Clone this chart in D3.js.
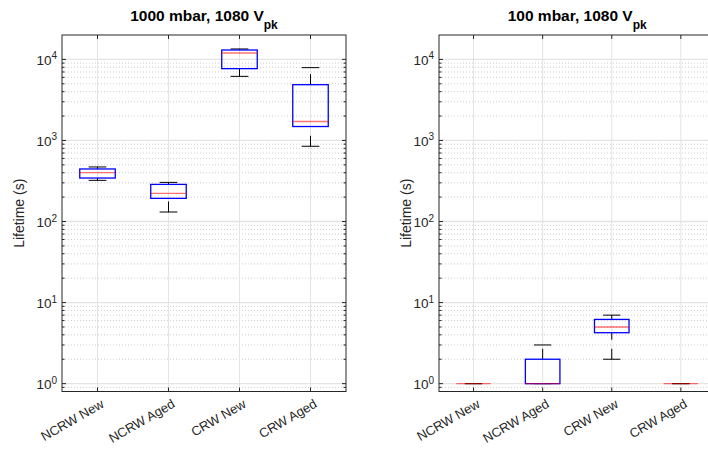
<!DOCTYPE html>
<html>
<head>
<meta charset="utf-8">
<script src="https://cdn.jsdelivr.net/npm/d3@7"></script>
<style>
  body { margin: 0; background: #fff; }
  text { font-family: "Liberation Sans", Arial, Helvetica, sans-serif; fill: #262626; }
</style>
</head>
<body>
<svg id="chart" width="708" height="455"></svg>
<script>
// Categories shared by both panels
const categories = ["NCRW New", "NCRW Aged", "CRW New", "CRW Aged"];

// 1000 mbar box-plot summaries (lifetime, s)
const hiPressLow    = [322, 131, 6180, 848];
const hiPressQ1     = [344, 193, 7690, 1486];
const hiPressMedian = [401, 222, 12000, 1714];
const hiPressQ3     = [445, 287, 13060, 4875];
const hiPressHigh   = [471, 304, 13450, 7910];

// 100 mbar box-plot summaries (lifetime, s)
const loPressLow    = [1, 1, 2, 1];
const loPressQ1     = [1, 1, 4.25, 1];
const loPressMedian = [1, 1, 5, 1];
const loPressQ3     = [1, 2, 6.2, 1];
const loPressHigh   = [1, 3, 7, 1];

// Axis settings
const yTicks = [1, 10, 100, 1000, 10000];
const yDomain = [0.8, 20000];
const titles = ["1000 mbar, 1080 V", "100 mbar, 1080 V"];
const titleSub = "pk";

const svg = d3.select("#chart");
svg.append("rect").attr("width", 708).attr("height", 455).attr("fill", "#fff");

const panels = [
  { title: titles[0], x0: 62, x1: 346, labelX: 24,
    low: hiPressLow, q1: hiPressQ1, med: hiPressMedian, q3: hiPressQ3, high: hiPressHigh },
  { title: titles[1], x0: 439, x1: 715.4, labelX: 411,
    low: loPressLow, q1: loPressQ1, med: loPressMedian, q3: loPressQ3, high: loPressHigh }
];

const plotTop = 35, plotBottom = 391.5;
const axisColor = "#262626";

// Minor log positions inside the domain
const minorVals = [];
for (let e = -1; e <= 4; e++) {
  for (let k = 2; k <= 9; k++) {
    const v = k * Math.pow(10, e);
    if (v > yDomain[0] && v < yDomain[1]) minorVals.push(v);
  }
}

panels.forEach(p => {
  const g = svg.append("g");
  const x = d3.scaleBand().domain(categories).range([p.x0, p.x1]).padding(0);
  const y = d3.scaleLog().domain(yDomain).range([plotBottom, plotTop]);
  const bw = x.bandwidth();
  const cx = c => x(c) + bw / 2;

  // minor grid (dotted)
  g.append("g").selectAll("line").data(minorVals).join("line")
    .attr("x1", p.x0).attr("x2", p.x1)
    .attr("y1", d => y(d)).attr("y2", d => y(d))
    .attr("stroke", "#cdcdcd").attr("stroke-width", 1)
    .attr("stroke-dasharray", "1,2");

  // major grid
  g.append("g").selectAll("line").data(yTicks).join("line")
    .attr("x1", p.x0).attr("x2", p.x1)
    .attr("y1", d => y(d)).attr("y2", d => y(d))
    .attr("stroke", "#e4e4e4").attr("stroke-width", 1.3);
  g.append("g").selectAll("line").data(categories).join("line")
    .attr("x1", cx).attr("x2", cx)
    .attr("y1", plotTop).attr("y2", plotBottom)
    .attr("stroke", "#e4e4e4").attr("stroke-width", 1);

  // box plots
  const rows = categories.map((c, i) => ({
    c, low: p.low[i], q1: p.q1[i], med: p.med[i], q3: p.q3[i], high: p.high[i]
  }));
  const bg = g.append("g");
  // whiskers, drawn upward from the lower end of each segment
  bg.append("g").selectAll("line").data(rows.filter(d => d.low < d.q1)).join("line")
    .attr("x1", d => cx(d.c)).attr("x2", d => cx(d.c))
    .attr("y1", d => y(d.low)).attr("y2", d => y(d.q1))
    .attr("stroke", "#000").attr("stroke-width", 1)
    .attr("stroke-dasharray", "10.5,9");
  bg.append("g").selectAll("line").data(rows.filter(d => d.high > d.q3)).join("line")
    .attr("x1", d => cx(d.c)).attr("x2", d => cx(d.c))
    .attr("y1", d => y(d.q3)).attr("y2", d => y(d.high))
    .attr("stroke", "#000").attr("stroke-width", 1)
    .attr("stroke-dasharray", "10.5,9");
  // whisker caps
  ["low", "high"].forEach(k => {
    bg.append("g").selectAll("line").data(rows).join("line")
      .attr("x1", d => cx(d.c) - bw * 0.125).attr("x2", d => cx(d.c) + bw * 0.125)
      .attr("y1", d => y(d[k])).attr("y2", d => y(d[k]))
      .attr("stroke", "#000").attr("stroke-width", 1);
  });
  // boxes
  bg.append("g").selectAll("rect").data(rows).join("rect")
    .attr("x", d => cx(d.c) - bw * 0.25).attr("width", bw * 0.5)
    .attr("y", d => y(d.q3)).attr("height", d => Math.max(0, y(d.q1) - y(d.q3)))
    .attr("fill", "none").attr("stroke", "#0000ff").attr("stroke-width", 1.3);
  // medians
  bg.append("g").selectAll("line").data(rows).join("line")
    .attr("x1", d => cx(d.c) - bw * 0.25).attr("x2", d => cx(d.c) + bw * 0.25)
    .attr("y1", d => y(d.med)).attr("y2", d => y(d.med))
    .attr("stroke", "#ff0000").attr("stroke-opacity", 0.55).attr("stroke-width", 1.3);

  // axes box
  g.append("rect").attr("x", p.x0).attr("y", plotTop)
    .attr("width", p.x1 - p.x0).attr("height", plotBottom - plotTop)
    .attr("fill", "none").attr("stroke", axisColor).attr("stroke-width", 1);

  // y ticks (inward, both sides)
  const tk = g.append("g").attr("stroke", axisColor).attr("stroke-width", 1);
  [[p.x0, 1], [p.x1, -1]].forEach(([xs, dir]) => {
    tk.append("g").selectAll("line").data(yTicks).join("line")
      .attr("x1", xs).attr("x2", xs + dir * 4)
      .attr("y1", d => y(d)).attr("y2", d => y(d));
    tk.append("g").selectAll("line").data(minorVals).join("line")
      .attr("x1", xs).attr("x2", xs + dir * 2.5)
      .attr("y1", d => y(d)).attr("y2", d => y(d));
  });
  // x ticks (inward, top and bottom)
  [[plotBottom, -1], [plotTop, 1]].forEach(([ys, dir]) => {
    tk.append("g").selectAll("line").data(categories).join("line")
      .attr("x1", cx).attr("x2", cx)
      .attr("y1", ys).attr("y2", ys + dir * 4);
  });

  // y tick labels as powers of ten
  const yl = g.append("g").selectAll("text").data(yTicks).join("text")
    .attr("x", p.x0 - 5).attr("y", d => y(d) + 5.5)
    .attr("text-anchor", "end").attr("font-size", 13.5);
  yl.append("tspan").text("10");
  yl.append("tspan").attr("font-size", 10).attr("dy", -5.5)
    .text(d => Math.round(Math.log10(d)));

  // x tick labels, rotated
  g.append("g").selectAll("text").data(categories).join("text")
    .attr("transform", d => `translate(${cx(d) + 5},${plotBottom + 11}) rotate(-30)`)
    .attr("text-anchor", "end").attr("dy", "0.35em")
    .attr("font-size", 13)
    .text(d => d);

  // y axis label
  g.append("text")
    .attr("transform", `translate(${p.labelX},${(plotTop + plotBottom) / 2}) rotate(-90)`)
    .attr("text-anchor", "middle").attr("font-size", 14)
    .text("Lifetime (s)");

  // title with subscript
  const t = g.append("text")
    .attr("x", (p.x0 + p.x1) / 2).attr("y", 21)
    .attr("text-anchor", "middle").attr("font-size", 15.5).attr("font-weight", "bold")
    .style("fill", "#000");
  t.append("tspan").text(p.title);
  t.append("tspan").attr("font-size", 12).attr("dy", 8).text(titleSub);
});
</script>
</body>
</html>
